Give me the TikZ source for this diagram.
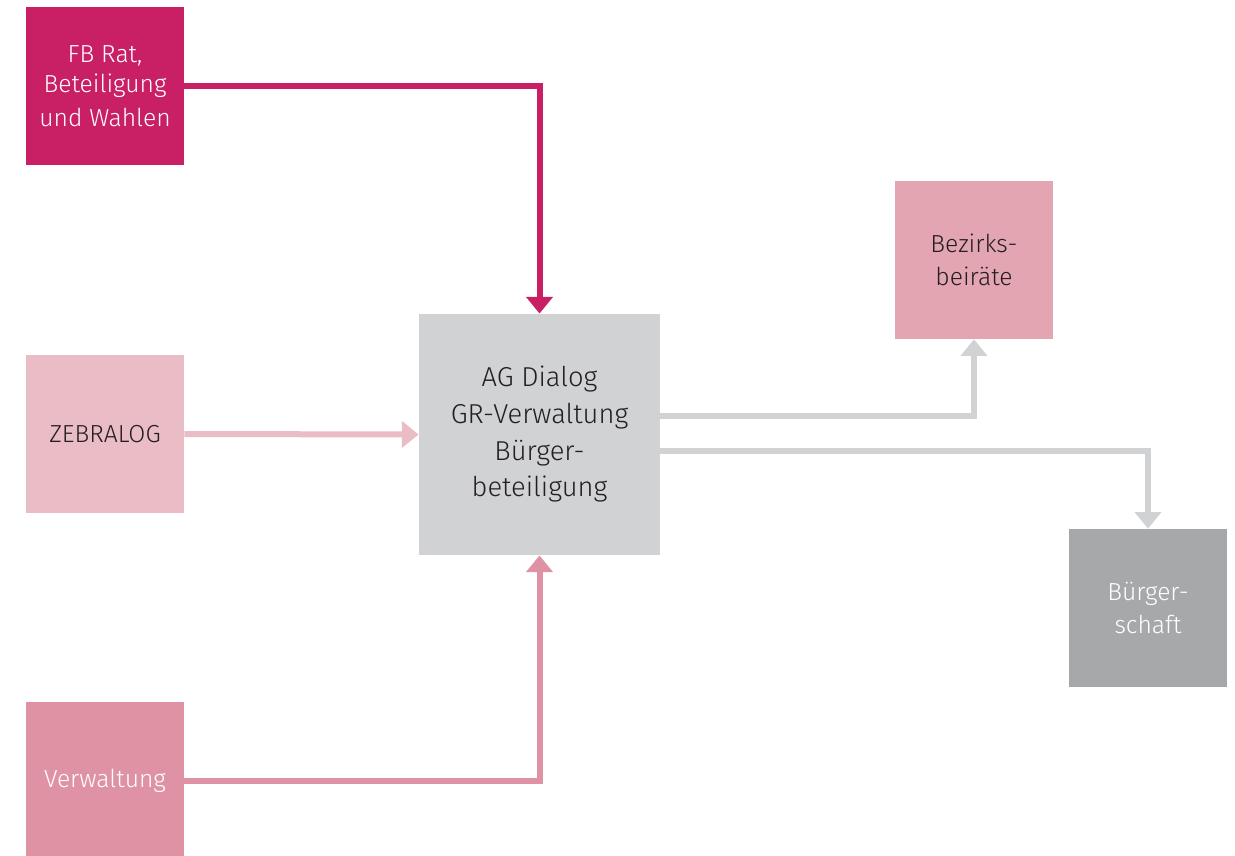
\documentclass[tikz,border=0pt]{standalone}
\usepackage{fontspec}
\setmainfont{Fira Sans Light}
\usetikzlibrary{arrows.meta,calc}
\definecolor{magenta}{HTML}{C91F65}
\definecolor{zebra}{HTML}{E9BCC6}
\definecolor{verw}{HTML}{DE92A4}
\definecolor{agg}{HTML}{D1D2D4}
\definecolor{bez}{HTML}{E3A5B1}
\definecolor{bsch}{HTML}{A7A8AA}
\definecolor{dark}{HTML}{231F20}
\tikzset{
  box/.style={rectangle, minimum width=118.5pt, minimum height=118.5pt, inner sep=0pt, align=center, font=\fontsize{18.5}{25}\selectfont},
  conn/.style={line width=4.5pt, -{Triangle[width=19.5pt,length=12.5pt]}},
}
\begin{document}
\begin{tikzpicture}[x=0.75pt,y=-0.75pt]
\useasboundingbox (0,0) rectangle (1235,856);
\node[box, fill=magenta, text=white] (fb) at (105,86) {\raisebox{-2pt}{FB Rat,}\\Beteiligung\\und Wahlen};
\node[box, fill=zebra, text=dark] (zeb) at (105,434) {ZEBRALOG};
\node[box, fill=verw, text=white] (verw) at (105,781) {\raisebox{-4pt}{Verwaltung}};
\node[box, fill=agg, text=dark, minimum width=181pt, minimum height=181pt, font=\fontsize{20.5}{27.5}\selectfont] (ag) at (539.5,434.5) {AG Dialog\\GR-Verwaltung\\Bürger-\\beteiligung};
\node[box, fill=bez, text=dark] (bezb) at (974,260) {\raisebox{-2pt}{Bezirks-}\\\raisebox{-2pt}{beiräte}};
\node[box, fill=bsch, text=white] (bs) at (1148,608) {Bürger-\\schaft};
\draw[conn, draw=magenta] (fb.east) -- (fb.east -| ag.north) -- (ag.north);
\draw[conn, draw=zebra] (zeb.east) -- (ag.west);
\draw[conn, draw=verw] (verw.east) -- (verw.east -| ag.south) -- (ag.south);
\coordinate (o1) at ($(ag.east)+(0,-18.5)$);
\coordinate (o2) at ($(ag.east)+(0,16.5)$);
\draw[conn, draw=agg] (o1) -- (o1 -| bezb.south) -- (bezb.south);
\draw[conn, draw=agg] (o2) -- (o2 -| bs.north) -- (bs.north);
\end{tikzpicture}
\end{document}
